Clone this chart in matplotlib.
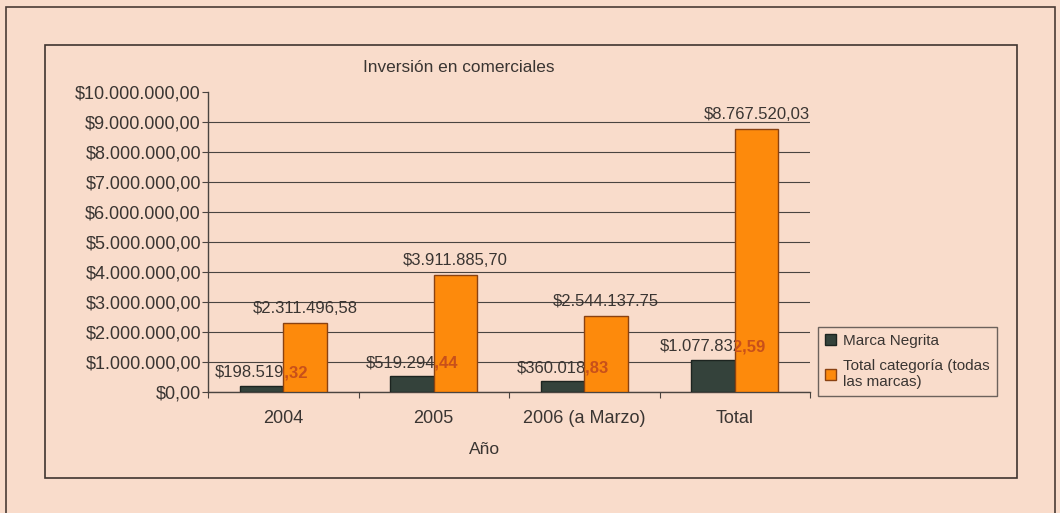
import matplotlib.pyplot as plt
from matplotlib.patches import Rectangle
from matplotlib.ticker import FuncFormatter

categorias = ['2004', '2005', '2006 (a Marzo)', 'Total']
marca_negrita = [198519.32, 519294.44, 360018.83, 1077832.59]
total_categoria = [2311496.58, 3911885.70, 2544137.75, 8767520.03]
etiquetas_marca = ['$198.519,32', '$519.294,44', '$360.018,83', '$1.077.832,59']
etiquetas_total = ['$2.311.496,58', '$3.911.885,70', '$2.544.137.75', '$8.767.520,03']
serie_nombres = ['Marca Negrita', 'Total categoría (todas\nlas marcas)']

fondo = '#f9dccb'
texto = '#3a3532'
naranja = '#fd8a0c'
oscuro = '#34423b'

plt.rcParams['font.family'] = ['Liberation Sans', 'DejaVu Sans']

W, H = 1060, 513
fig = plt.figure(figsize=(W / 100, H / 100), dpi=100, facecolor=fondo)

# marcos exterior e interior
fig.patches.append(Rectangle((6 / W, -0.05), 1049 / W, 1 - 7 / H + 0.05,
                             transform=fig.transFigure, fill=False,
                             edgecolor='#4a3c36', lw=1.2))
fig.patches.append(Rectangle((45 / W, 1 - 478 / H), 972 / W, 433 / H,
                             transform=fig.transFigure, fill=False,
                             edgecolor='#3f3530', lw=1.2))

ax = fig.add_axes([208 / W, 1 - 392 / H, 602 / W, 300 / H])
ax.set_facecolor('none')

x = list(range(len(categorias)))
w = 0.289
barras_m = ax.bar([i - w / 2 for i in x], marca_negrita, w, color=oscuro,
                  edgecolor='#1c2420', lw=1, zorder=3, label=serie_nombres[0])
barras_t = ax.bar([i + w / 2 for i in x], total_categoria, w, color=naranja,
                  edgecolor='#8a4212', lw=1, zorder=3, label=serie_nombres[1])

ax.set_xlim(-0.5, len(categorias) - 0.5)
ax.set_ylim(0, 10_000_000)
ax.set_yticks(range(0, 10_000_001, 1_000_000))
ax.yaxis.set_major_formatter(FuncFormatter(
    lambda v, p: '$' + f'{v:,.2f}'.replace(',', 'X').replace('.', ',').replace('X', '.')))
ax.grid(axis='y', color='#4a4440', lw=0.8, zorder=0)
# la línea de 10M no lleva rejilla
ax.yaxis.get_gridlines()[-1].set_visible(False)

ax.set_xticks([i + 0.5 for i in x[:-1]] + [-0.5, len(categorias) - 0.5])
ax.set_xticklabels([])
ax.set_xticks(x, categorias, minor=True)
ax.tick_params(axis='x', which='minor', length=0, pad=13, labelsize=13,
               labelcolor=texto)
ax.tick_params(axis='x', which='major', length=4, color='#4a4440')
ax.tick_params(axis='y', length=4, pad=1, labelsize=13, labelcolor=texto,
               color='#4a4440')
for s in ['top', 'right']:
    ax.spines[s].set_visible(False)
for s in ['left', 'bottom']:
    ax.spines[s].set_color('#4a4440')
    ax.spines[s].set_linewidth(1)

# etiquetas de valores
for b, lab in zip(barras_m, etiquetas_marca):
    cx = b.get_x() + b.get_width() / 2
    ax.annotate(lab, (cx, b.get_height()), xytext=(0, 4),
                textcoords='offset points', ha='center', va='bottom',
                fontsize=12, color=texto, zorder=2)
for b, bm, lab in zip(barras_t, barras_m, etiquetas_marca):
    # la parte del texto que queda sobre la barra naranja
    cx = bm.get_x() + bm.get_width() / 2
    t = ax.annotate(lab, (cx, bm.get_height()), xytext=(0, 4),
                    textcoords='offset points', ha='center', va='bottom',
                    fontsize=12, color='#c8501a', fontweight='bold', zorder=4)
    t.set_clip_path(b)
for b, lab in zip(barras_t, etiquetas_total):
    cx = b.get_x() + b.get_width() / 2
    ax.annotate(lab, (cx, b.get_height()), xytext=(0, 5),
                textcoords='offset points', ha='center', va='bottom',
                fontsize=12, color=texto, zorder=4)

fig.text(363 / W, 1 - 68 / H, 'Inversión en comerciales', ha='left',
         va='center', fontsize=12.4, color=texto)
fig.text(485 / W, 1 - 449 / H, 'Año', ha='center', va='center',
         fontsize=12.5, color=texto)

leg = fig.legend(handles=[barras_m, barras_t], labels=serie_nombres,
                 loc='lower left', bbox_to_anchor=(818 / W, 1 - 396 / H),
                 fontsize=11, frameon=True, fancybox=False,
                 handlelength=0.75, handleheight=0.75, handletextpad=0.45,
                 labelspacing=0.7, borderpad=0.45, borderaxespad=0,
                 labelcolor=texto)
leg.get_frame().set_edgecolor('#4a4440')
leg.get_frame().set_facecolor(fondo)
leg.get_frame().set_linewidth(1)

fig.savefig('out.png', dpi=100, facecolor=fondo)
